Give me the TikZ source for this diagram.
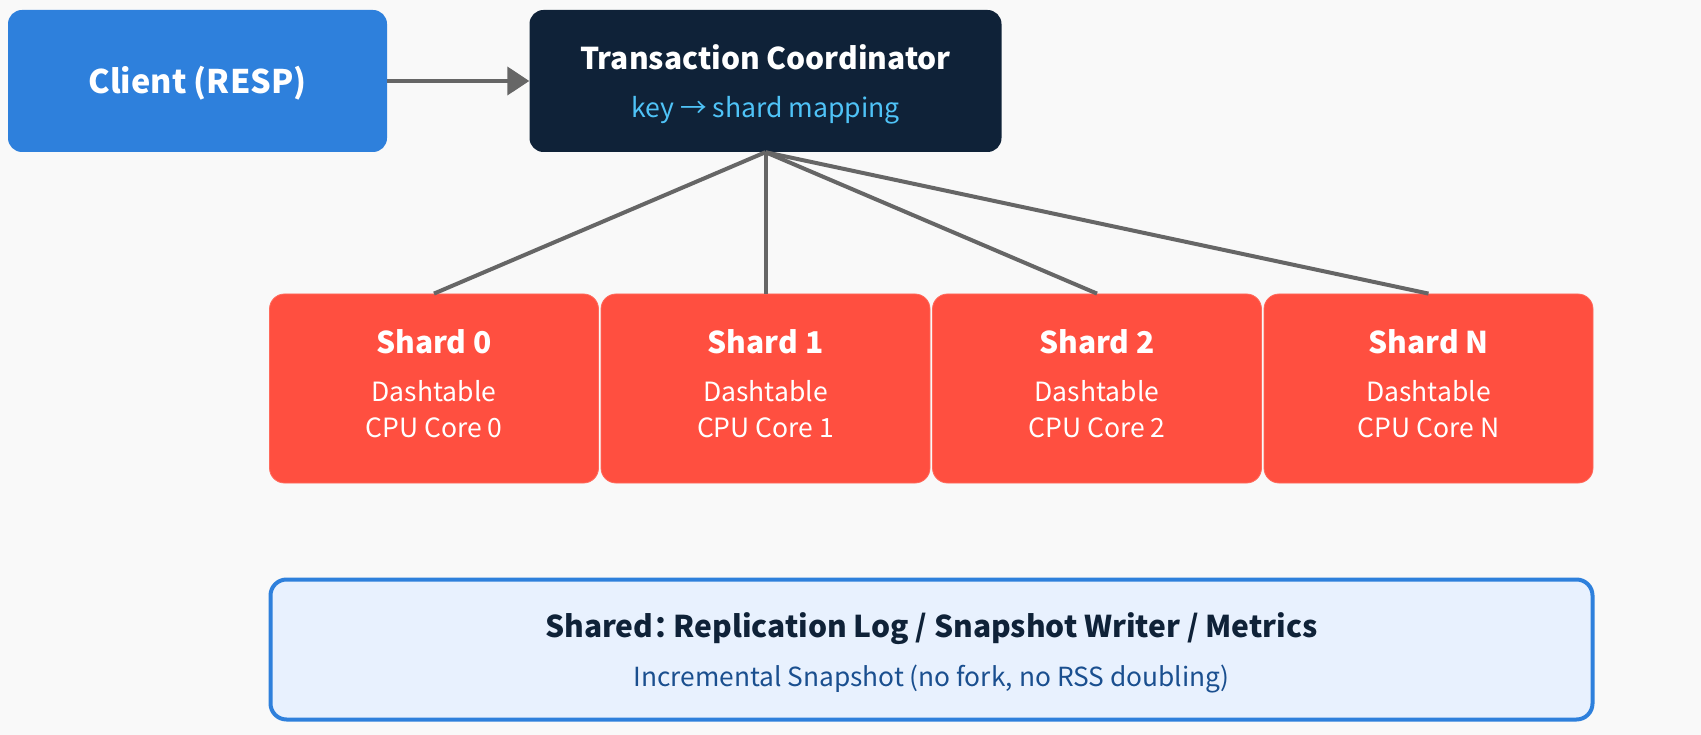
\documentclass[tikz,border=0pt]{standalone}
\usepackage{fontspec}
\setmainfont{Noto Sans CJK SC}
\usetikzlibrary{arrows.meta}
\definecolor{bgc}{HTML}{F9F9F9}
\definecolor{clientc}{HTML}{2E80DC}
\definecolor{coordc}{HTML}{0F2238}
\definecolor{coordsub}{HTML}{4FC3F7}
\definecolor{shardc}{HTML}{FF4F40}
\definecolor{shardedge}{HTML}{FF6A5C}
\definecolor{sharedfill}{HTML}{E8F1FE}
\definecolor{sharededge}{HTML}{2E80DC}
\definecolor{sharedtitle}{HTML}{0F2238}
\definecolor{sharedsub}{HTML}{1A4F8F}
\definecolor{linkc}{HTML}{666666}
\tikzset{
  boxbase/.style={rectangle, rounded corners=14pt, inner sep=0pt},
  clientbox/.style={boxbase, fill=clientc, minimum width=379pt, minimum height=142pt},
  coordbox/.style={boxbase, fill=coordc, minimum width=472pt, minimum height=142pt},
  shardbox/.style={boxbase, fill=shardc, draw=shardedge, line width=0.8pt, minimum width=329pt, minimum height=189pt, rounded corners=15pt},
  sharedbox/.style={boxbase, fill=sharedfill, draw=sharededge, line width=4pt, minimum width=1322pt, minimum height=140pt, rounded corners=16pt},
  txt/.style={inner sep=0pt, anchor=base},
  linkline/.style={draw=linkc, line width=4pt},
}
\begin{document}
\begin{tikzpicture}[x=1pt,y=-1pt]
\fill[bgc] (0,0) rectangle (1701,735);
\useasboundingbox (0,0) rectangle (1701,735);

\node[clientbox] (client) at (197.5,81) {};
\node[txt, text=white, font=\fontsize{32.5}{36}\selectfont\bfseries] (clientT) at (197.5,94) {Client (RESP)};

\node[coordbox] (coord) at (765.5,81) {};
\node[txt, text=white, font=\fontsize{30}{34}\selectfont\bfseries] (coordT) at (765.5,69.5) {Transaction Coordinator};
\node[txt, text=coordsub, font=\fontsize{26.6}{30}\selectfont] (coordS) at (765.5,118) {key → shard mapping};

\draw[linkline, -{Triangle[length=22pt,width=28pt]}] (client.east) -- (coord.west);

\foreach \i/\cx/\lab/\core in {0/434/0/0, 1/765.5/1/1, 2/1097/2/2, 3/1428.5/N/N}{
  \node[shardbox] (shard\i) at (\cx,388.5) {};
  \node[txt, text=white, font=\fontsize{30}{34}\selectfont\bfseries] (shardT\i) at (\cx,354) {Shard \lab};
  \node[txt, text=white, font=\fontsize{26.5}{30}\selectfont] (shardA\i) at (\cx,402) {Dashtable};
  \node[txt, text=white, font=\fontsize{26.5}{30}\selectfont] (shardB\i) at (\cx,437) {CPU Core \core};
}

\foreach \i in {0,1,2,3}{
  \draw[linkline] (coord.south) -- (shard\i.north);
}

\node[sharedbox] (shared) at (931.5,649.5) {};
\node[txt, text=sharedtitle, font=\fontsize{30}{34}\selectfont\bfseries] (sharedT) at (931.5,637.5) {Shared{\addfontfeature{RawFeature=+palt}：}\hspace{0.18em}Replication Log / Snapshot Writer / Metrics};
\node[txt, text=sharedsub, font=\fontsize{26.3}{30}\selectfont] (sharedS) at (931.5,686) {Incremental Snapshot (no fork, no RSS doubling)};
\end{tikzpicture}
\end{document}
